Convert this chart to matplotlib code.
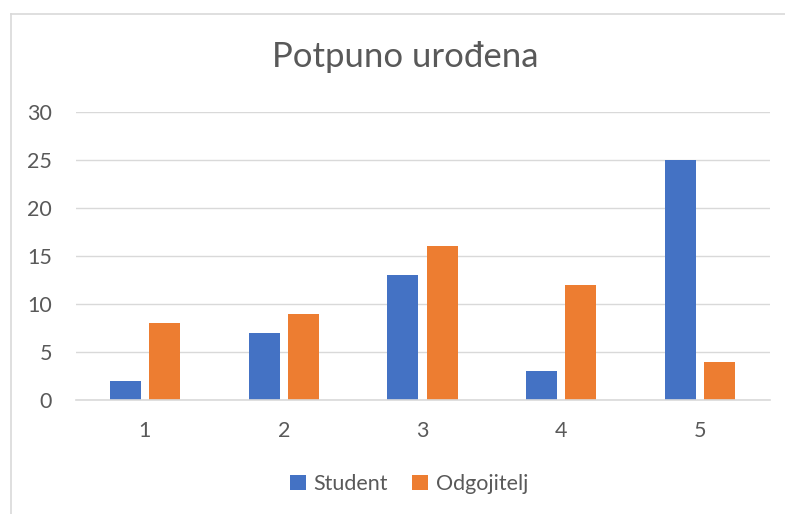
import numpy as np
import matplotlib.pyplot as plt

categories = ['1', '2', '3', '4', '5']
student = [2, 7, 13, 3, 25]
odgojitelj = [8, 9, 16, 12, 4]
yticks = [0, 5, 10, 15, 20, 25, 30]

plt.rcParams['font.family'] = ['Lato', 'DejaVu Sans']
text_col = '#595959'
grid_col = '#D9D9D9'

W, H = 785, 514
fig = plt.figure(figsize=(W / 100, H / 100), dpi=100)
ax = fig.add_axes([75.5 / W, (H - 400) / H, 694 / W, 288 / H])

x = np.arange(len(categories))
bw = 0.223
off = 0.141
ax.bar(x - off, student, bw, color='#4472C4', label='Student', zorder=3)
ax.bar(x + off, odgojitelj, bw, color='#ED7D31', label='Odgojitelj', zorder=3)

ax.set_xlim(-0.5, len(categories) - 0.5)
ax.set_ylim(0, 30)
ax.set_yticks(yticks)
ax.set_xticks(x)
ax.set_xticklabels(categories)
ax.yaxis.grid(True, color=grid_col, lw=1, zorder=0)
for s in ['top', 'right', 'left']:
    ax.spines[s].set_visible(False)
ax.spines['bottom'].set_color(grid_col)
ax.spines['bottom'].set_linewidth(1.2)
ax.spines['bottom'].set_zorder(4)
ax.tick_params(axis='both', length=0, labelsize=15.5, colors=text_col)
ax.tick_params(axis='y', pad=17)
ax.tick_params(axis='x', pad=15)

fig.text(405 / W, 1 - 57 / H, 'Potpuno uro\u0111ena', ha='center', va='center',
         fontsize=25, color=text_col)

leg = fig.legend(loc='center', bbox_to_anchor=(409 / W, 1 - 484 / H), ncol=2,
                 frameon=False, fontsize=15.5, handlelength=0.75, handleheight=0.75,
                 handletextpad=0.35, columnspacing=1.1)
for t in leg.get_texts():
    t.set_color(text_col)

# chart border (left and top edges visible)
fig.add_artist(plt.Line2D([10.5 / W, 10.5 / W], [0, 1 - 13.5 / H],
                          transform=fig.transFigure, color=grid_col, lw=1.2))
fig.add_artist(plt.Line2D([10.5 / W, 1], [1 - 13.5 / H, 1 - 13.5 / H],
                          transform=fig.transFigure, color=grid_col, lw=1.2))

fig.savefig('out.png', dpi=100)
